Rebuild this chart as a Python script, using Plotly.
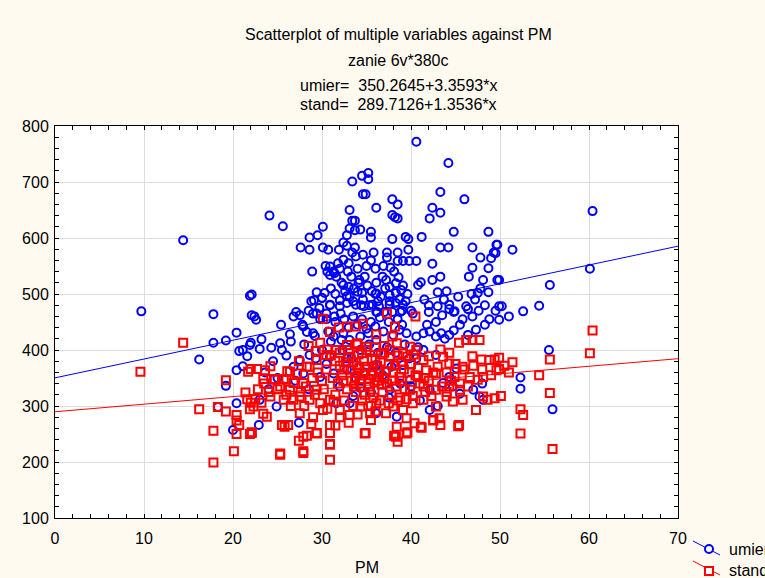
import plotly.graph_objects as go

# ---------------- data ----------------
umier_pm = [
    9.7, 14.4, 16.2, 17.8, 17.8, 19.2, 19.2, 20.4, 20.4, 20.4, 20.0, 20.7, 21.1, 21.1, 21.6, 21.9, 21.9, 22.4, 18.3, 22.1, 22.9, 27.4,
    24.1, 25.6, 27.6, 28.6, 28.6, 29.5, 30.1, 30.1, 30.7, 31.9, 28.9, 30.4, 30.6, 30.9, 29.4, 29.1, 30.0,
    33.4, 34.5, 35.2, 35.2, 34.6, 34.9, 36.1, 33.1, 33.4, 33.7, 33.1, 33.7, 32.8, 34.3, 35.5, 35.5, 32.4, 32.8, 33.7, 33.4, 34.6, 35.8, 35.5,
    40.6, 44.2, 43.3, 46.0, 37.9, 38.5, 42.4, 43.3, 42.1, 37.9, 38.2, 38.5, 44.8, 48.7, 37.9, 39.4, 39.7, 41.2, 37.3, 37.3, 38.5, 39.7,
    43.3, 44.2, 46.9, 49.6, 49.3, 49.0, 47.8, 37.7, 38.5, 39.1, 39.8, 40.6, 42.4, 46.9, 48.7, 46.5, 48.1, 49.7, 43.3, 42.4, 41.1, 40.8,
    43.0, 43.7, 44.3, 44.9, 46.4, 47.5, 48.7, 47.2,
    60.4, 49.7, 49.5, 51.4, 60.1, 49.9, 55.6, 49.9, 50.2, 49.9, 51.0, 52.6, 54.4, 55.5, 52.3, 52.3, 55.9,
    31.8, 32.4, 33.0, 33.8, 34.8, 33.3, 34.2, 31.6, 32.4, 33.0, 34.0, 34.5, 36.1, 36.8, 37.2, 37.6, 38.3, 38.3, 38.9, 38.7, 39.4, 37.6,
    36.3, 36.0, 30.3, 30.9, 32.0, 32.8, 33.5, 34.4, 35.3, 36.1, 37.0, 37.9, 38.8, 40.2, 29.4, 30.0, 29.0, 30.5, 31.4, 32.1, 31.4, 30.9,
    28.8, 29.7, 30.9, 32.0, 32.8, 33.8, 34.7, 35.7, 36.4, 37.6, 38.3, 39.1, 39.0, 36.2, 42.0, 43.0, 43.5, 44.3, 44.8, 46.2, 46.9, 47.6,
    48.8, 49.5, 22.1, 22.6, 25.4, 27.1, 27.5, 26.8, 27.9, 26.4, 28.3, 29.2, 23.2, 24.3, 25.3, 23.0, 22.0,
    30.7, 31.3, 32.2, 32.4, 33.1, 34.3, 35.2, 36.1, 36.9, 38.0, 38.7, 39.5, 40.6, 41.4, 42.1, 42.8, 43.4, 44.3, 45.5, 46.4, 47.3, 48.3,
    41.4, 42.8, 40.6, 39.1, 36.1, 32.8, 30.9, 28.6, 27.5, 26.8, 27.9, 29.8, 31.3, 34.3, 37.6, 39.9, 42.1, 43.6, 44.3, 45.1, 47.0, 48.1,
    31.6, 33.1, 36.1, 38.4, 23.0, 24.9, 42.1, 44.7, 47.7,
    31.0, 31.5, 32.2, 32.6, 33.1, 33.6, 34.1, 34.6, 35.1, 35.6, 36.1, 36.6, 37.1, 37.6, 38.1, 38.6, 39.1, 39.6, 31.3, 32.0, 32.9, 34.0,
    35.0, 36.0, 36.9, 33.5, 34.5, 35.5, 36.5, 37.5, 38.5, 32.5, 31.5, 30.5, 33.0, 34.0, 35.0, 36.0, 34.3, 35.3, 36.3, 33.3, 32.3, 37.3,
    38.3, 39.3, 35.8, 34.8, 33.8, 32.8, 36.8, 37.8, 38.8, 39.8, 40.8, 41.8, 42.8, 43.8, 44.8, 45.8, 46.8, 47.8, 48.3, 45.3, 44.0, 41.5,
    42.0, 40.0, 39.0, 29.8, 28.5, 27.8, 26.5, 25.5, 24.5, 23.6, 26.0, 28.0, 29.0, 30.0, 31.0, 30.5, 29.3, 27.0, 28.5, 25.0, 24.0, 32.0,
    33.5, 35.5, 37.5, 40.0, 41.0, 43.0, 45.5, 48.0,
]
umier = [
    469, 596, 383, 464, 413, 417, 336, 431, 364, 305, 257, 398, 400, 371, 389, 497, 409, 460, 298, 499, 266, 270,
    640, 621, 583, 579, 601, 605, 620, 583, 579, 579, 540, 550, 540, 534, 503, 489, 493,
    701, 711, 716, 705, 678, 678, 654, 650, 631, 631, 617, 614, 605, 615, 611, 601, 592, 586, 583, 574, 570, 574, 560,
    772, 734, 682, 669, 669, 660, 654, 645, 635, 641, 637, 635, 611, 611, 598, 602, 598, 602, 574, 565, 574, 579,
    583, 583, 583, 588, 574, 564, 565, 547, 559, 559, 559, 559, 554, 547, 546, 531, 525, 525, 531, 525, 521, 516,
    503, 490, 481, 469, 473, 502, 503, 490,
    648, 588, 573, 579, 545, 525, 516, 478, 478, 454, 460, 469, 479, 400, 351, 331, 294,
    555, 561, 555, 567, 531, 531, 525, 531, 516, 513, 504, 502, 501, 531, 525, 513, 519, 502, 507, 491, 487, 487,
    487, 500, 502, 480, 489, 496, 487, 480, 480, 468, 468, 468, 468, 465, 465, 493, 465, 465, 460, 465, 537, 549,
    487, 475, 481, 478, 484, 481, 478, 481, 478, 481, 484, 481, 470, 468, 468, 478, 462, 473, 468, 478, 460, 470,
    455, 470, 462, 454, 445, 468, 462, 460, 442, 428, 432, 425, 419, 404, 412, 402, 413,
    433, 424, 418, 430, 418, 424, 430, 418, 433, 427, 436, 430, 424, 430, 433, 424, 430, 427, 445, 427, 436, 445,
    400, 391, 385, 373, 373, 385, 388, 391, 382, 370, 358, 352, 358, 332, 329, 347, 329, 341, 352, 367, 329, 311,
    305, 305, 287, 281, 311, 299, 293, 335, 317,
    510, 500, 520, 505, 495, 510, 520, 490, 515, 505, 520, 495, 510, 498, 540, 530, 515, 500, 540, 545, 540, 545,
    550, 545, 550, 460, 455, 450, 458, 450, 455, 455, 450, 455, 440, 445, 438, 442, 400, 410, 395, 385, 400, 405,
    395, 410, 372, 360, 350, 365, 355, 370, 340, 385, 405, 445, 450, 420, 435, 455, 500, 510, 480, 495, 505, 490,
    480, 470, 445, 455, 470, 445, 415, 400, 380, 360, 390, 410, 430, 400, 415, 375, 385, 345, 330, 350, 330, 335,
    318, 325, 315, 335, 310, 300, 322, 340,
]

stand_pm = [
    9.6, 14.4, 16.2, 17.8, 17.8, 18.3, 19.2, 19.2, 20.4, 20.4, 20.4, 20.1, 20.7, 21.4, 21.6, 21.7, 21.9, 21.9,
    60.4, 60.1, 55.6, 49.9, 49.9, 51.4, 51.0, 54.4, 50.1, 55.6, 52.3, 52.6, 52.3, 55.9,
    25.3, 30.9, 27.9, 27.4, 28.3, 30.9, 29.4, 34.9, 38.1, 38.5, 39.6, 41.2, 45.4, 43.3, 42.5, 25.5, 26.2, 22.1, 30.9,
    30.1, 37.3, 40.5, 31.9, 32.8, 33.8, 34.6, 30.9, 38.2, 36.1, 37.9, 37.0, 45.4, 46.2, 46.9, 47.7, 29.8, 28.5, 29.3, 30.6,
    43.3, 44.3, 42.0, 46.9, 47.9, 49.4, 27.4, 26.1, 24.2, 24.6, 22.7, 22.0, 23.4, 25.7, 22.5, 23.2, 23.4, 22.0, 22.1,
    40.8, 41.7, 42.8, 44.9, 46.4, 47.5, 45.5, 48.1, 49.4, 48.6, 47.3, 44.7, 43.2, 42.5, 45.3, 41.1, 40.4, 39.5, 38.4, 38.3,
    39.5, 34.8, 30.9, 27.9, 25.3, 30.9, 29.4, 27.5, 28.8, 27.9, 25.8, 23.8, 22.3, 23.6, 24.7, 26.4, 26.8, 28.6, 27.9, 29.4,
    30.9, 30.1, 32.0, 33.1, 34.3, 35.4, 36.1, 37.2, 38.0, 39.1, 40.2, 41.4, 42.8, 44.0, 45.8, 44.3, 42.8, 41.4, 39.9, 46.6,
    48.1, 49.6, 48.8, 45.8, 44.3, 43.6, 41.4, 40.6, 39.9, 39.1, 37.6, 38.4, 35.0, 33.9, 32.8, 31.6, 30.5, 29.4, 28.3, 27.2,
    26.0, 25.3, 26.4, 27.5, 28.6, 29.8, 26.8, 25.7, 24.2,
    31.0, 31.5, 32.0, 32.5, 33.0, 33.5, 34.0, 34.5, 35.0, 35.5, 36.0, 36.5, 37.0, 37.5, 38.0, 38.5, 39.0, 31.2, 31.8, 32.3,
    32.8, 33.3, 33.8, 34.3, 34.8, 35.3, 35.8, 36.3, 36.8, 37.3, 37.8, 38.3, 38.8, 39.3, 31.5, 32.5, 33.5, 34.5, 35.5, 36.5,
    37.5, 38.5, 33.0, 34.0, 35.0, 36.0, 37.0, 32.0, 33.7, 34.2, 34.7, 35.2, 35.7, 36.2, 36.7, 33.2, 32.7, 34.9, 35.9, 33.6,
    34.4, 35.4, 36.4, 37.2, 38.2, 39.2, 40.0, 40.5, 41.0, 30.5, 30.0, 29.5, 30.2, 31.3, 37.7, 38.7, 39.6, 40.3, 36.6, 34.1,
    32.4, 33.9, 35.6, 37.9, 38.9, 39.8, 40.8, 41.5, 42.0, 42.5, 43.0, 44.0, 45.0, 46.0, 47.0, 48.0, 49.0, 50.5, 44.5, 45.5,
    43.5, 42.3, 44.0, 41.6, 40.2, 39.5, 36.0, 34.0, 35.5, 33.0, 32.0, 31.5, 29.0, 28.0, 30.6, 29.2, 28.2, 28.9, 27.6, 26.5,
    26.0, 25.0, 24.0, 23.5, 22.8,
]
stand = [
    361, 413, 294, 256, 199, 298, 346, 290, 284, 274, 250, 219, 266, 324, 312, 361, 294, 250,
    435, 394, 383, 386, 366, 378, 360, 355, 318, 323, 294, 284, 251, 223,
    215, 204, 219, 238, 247, 232, 252, 252, 247, 236, 253, 261, 266, 266, 274, 266, 266, 252, 252,
    456, 465, 460, 440, 442, 442, 447, 432, 442, 428, 424, 407, 413, 418, 418, 418, 413, 407, 398, 401,
    401, 395, 389, 389, 383, 383, 380, 362, 371, 348, 366, 366, 348, 348, 312, 306, 286, 306, 253,
    352, 364, 358, 352, 335, 347, 329, 317, 314, 311, 293, 308, 278, 275, 264, 263, 269, 251, 263, 245,
    278, 251, 231, 216, 213, 266, 251, 287, 268, 245, 263, 281, 299, 364, 347, 361, 341, 370, 341, 329,
    311, 293, 293, 284, 299, 287, 305, 287, 299, 293, 305, 311, 299, 317, 311, 335, 329, 335, 329, 352,
    352, 364, 382, 370, 376, 388, 382, 400, 406, 394, 400, 412, 406, 412, 409, 400, 391, 382, 370, 358,
    347, 335, 329, 317, 311, 305, 311, 311, 317,
    390, 380, 372, 365, 388, 378, 360, 395, 370, 355, 385, 365, 350, 375, 360, 390, 345, 350, 340, 355,
    330, 345, 325, 340, 320, 335, 315, 345, 325, 340, 320, 335, 315, 330, 320, 310, 300, 310, 300, 310,
    305, 310, 400, 410, 400, 405, 395, 395, 352, 368, 380, 348, 362, 372, 338, 365, 378, 358, 342, 335,
    348, 325, 352, 362, 372, 365, 375, 355, 340, 365, 345, 360, 330, 308, 388, 352, 388, 392, 392, 392,
    345, 372, 382, 345, 378, 360, 368, 350, 345, 360, 370, 360, 375, 365, 372, 365, 355, 372, 345, 340,
    335, 318, 325, 325, 318, 312, 290, 285, 275, 270, 280, 265, 280, 300, 295, 320, 335, 350, 325, 300,
    320, 330, 325, 340, 330,
]

fit_intercepts = {"umier": 350.2645, "stand": 289.7126}
fit_slopes = {"umier": 3.3593, "stand": 1.3536}
fit_x = [0, 70]

title_lines = [
    "Scatterplot of multiple variables against PM",
    "zanie 6v*380c",
    "umier=  350.2645+3.3593*x",
    "stand=  289.7126+1.3536*x",
]

# ---------------- layout helpers ----------------
W, H = 765, 578
ML, MR, MT, MB = 55, 87, 126, 60
PW, PH = W - ML - MR, H - MT - MB


def px(X):
    return (X - ML) / PW


def py(Y):
    return (H - MB - Y) / PH


BLUE = "#0000FF"
RED = "#FF0000"
FONT = "Liberation Sans, Arial, sans-serif"
FS = 16

fig = go.Figure()

fig.add_trace(go.Scatter(
    x=umier_pm, y=umier, mode="markers", name="umier",
    marker=dict(symbol="circle-open", size=8, color=BLUE, line=dict(width=2, color=BLUE)),
    showlegend=False, cliponaxis=True))
fig.add_trace(go.Scatter(
    x=stand_pm, y=stand, mode="markers", name="stand",
    marker=dict(symbol="square-open", size=8, color=RED, line=dict(width=2, color=RED)),
    showlegend=False, cliponaxis=True))

for key, col in (("umier", BLUE), ("stand", RED)):
    b0, b1 = fit_intercepts[key], fit_slopes[key]
    fig.add_trace(go.Scatter(
        x=fit_x, y=[b0 + b1 * v for v in fit_x], mode="lines",
        line=dict(color=col, width=1), showlegend=False, hoverinfo="skip"))

annotations = []
title_y = [35, 60, 85, 104]
for txt, Y in zip(title_lines, title_y):
    annotations.append(dict(text=txt, x=px(398.5), y=py(Y), xref="paper", yref="paper",
                            showarrow=False, xanchor="center", yanchor="middle",
                            font=dict(family=FONT, size=FS, color="black")))
annotations.append(dict(text="PM", x=px(367), y=py(567), xref="paper", yref="paper",
                        showarrow=False, xanchor="center", yanchor="middle",
                        font=dict(family=FONT, size=FS, color="black")))
annotations.append(dict(text="umier", x=px(727), y=py(549), xref="paper", yref="paper",
                        showarrow=False, xanchor="left", yanchor="middle",
                        font=dict(family=FONT, size=FS, color="black")))
annotations.append(dict(text="stand", x=px(727), y=py(570), xref="paper", yref="paper",
                        showarrow=False, xanchor="left", yanchor="middle",
                        font=dict(family=FONT, size=FS, color="black")))

shapes = [
    dict(type="line", xref="paper", yref="paper", x0=px(693), y0=py(541), x1=px(720), y1=py(555),
         line=dict(color=BLUE, width=1)),
    dict(type="circle", xref="paper", yref="paper", x0=px(705), y0=py(553), x1=px(713), y1=py(545),
         line=dict(color=BLUE, width=2), fillcolor="white"),
    dict(type="line", xref="paper", yref="paper", x0=px(693), y0=py(561), x1=px(720), y1=py(575),
         line=dict(color=RED, width=1)),
    dict(type="rect", xref="paper", yref="paper", x0=px(705), y0=py(575), x1=px(713), y1=py(567),
         line=dict(color=RED, width=2), fillcolor="white"),
]

axis_common = dict(
    showline=True, linecolor="black", linewidth=1, mirror="ticks",
    ticks="inside", ticklen=4, tickcolor="black", tickwidth=1,
    showgrid=True, gridcolor="#DCDCDC", gridwidth=1, zeroline=False,
    tickfont=dict(family=FONT, size=FS, color="black"),
)

fig.update_layout(
    width=W, height=H,
    margin=dict(l=ML, r=MR, t=MT, b=MB, pad=0),
    paper_bgcolor="#FFFAF0", plot_bgcolor="white",
    xaxis=dict(range=[0, 70], dtick=10, tick0=0, ticklabelstandoff=6,
               minor=dict(dtick=2, ticks="inside", ticklen=4, tickcolor="black", showgrid=False),
               **axis_common),
    yaxis=dict(range=[100, 800], dtick=100, tick0=0, ticklabelstandoff=2,
               minor=dict(dtick=20, ticks="inside", ticklen=4, tickcolor="black", showgrid=False),
               **axis_common),
    annotations=annotations, shapes=shapes,
    showlegend=False,
)

fig.write_html("out.html", config={"displayModeBar": False},
               post_script="document.body.style.margin='0px';document.body.style.overflow='hidden';")
